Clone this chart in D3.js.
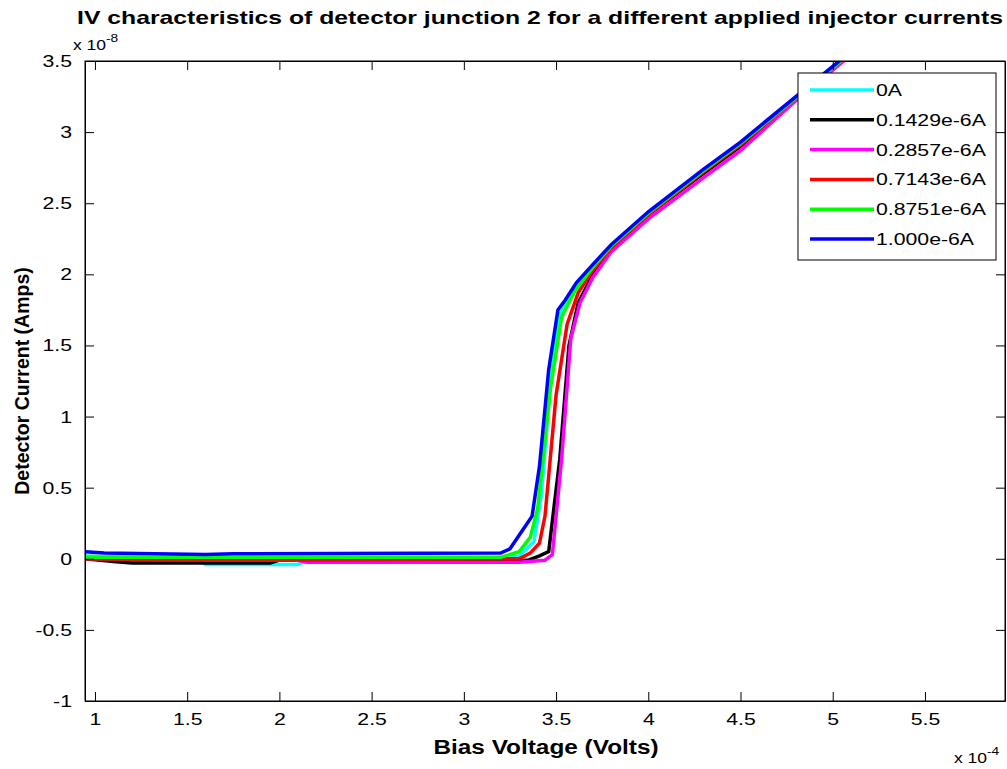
<!DOCTYPE html>
<html>
<head>
<meta charset="utf-8">
<script src="https://cdn.jsdelivr.net/npm/d3@7"></script>
<style>
  html, body { margin: 0; padding: 0; background: #fff; }
  svg { display: block; font-family: "Liberation Sans", Arial, sans-serif; }
</style>
</head>
<body>
<svg id="chart" width="1007" height="769"></svg>
<script>
// Bias voltage in units of 1e-4 V, detector current in units of 1e-8 A
const seriesNames = ["0A", "0.1429e-6A", "0.2857e-6A", "0.7143e-6A", "0.8751e-6A", "1.000e-6A"];
const seriesColors = ["#00ffff", "#000000", "#ff00ff", "#ff0000", "#00ff00", "#0000ff"];

const cyanV = [0.946, 1.55, 1.6, 2.1, 2.15, 3.2, 3.3, 3.38, 3.42, 3.47, 3.52, 3.6, 3.7, 3.8, 4.0, 4.3, 4.5, 4.8, 5.3];
const cyanI = [0.02, 0.0, -0.04, -0.04, -0.015, -0.015, 0.02, 0.12, 0.45, 1.25, 1.72, 1.88, 2.05, 2.2, 2.43, 2.72, 2.91, 3.23, 3.76];

const blackV = [0.946, 1.1, 1.2, 1.95, 2.0, 3.35, 3.41, 3.46, 3.52, 3.57, 3.62, 3.7, 3.8, 4.0, 4.3, 4.5, 4.8, 5.3];
const blackI = [0.0, -0.02, -0.03, -0.03, -0.01, -0.01, 0.02, 0.05, 0.7, 1.5, 1.8, 2.0, 2.18, 2.42, 2.71, 2.9, 3.23, 3.76];

const magentaV = [0.946, 2.1, 2.15, 3.3, 3.44, 3.48, 3.53, 3.58, 3.63, 3.7, 3.8, 4.0, 4.3, 4.5, 4.8, 5.3];
const magentaI = [0.0, -0.01, -0.025, -0.025, -0.01, 0.03, 0.7, 1.55, 1.8, 1.98, 2.16, 2.39, 2.68, 2.87, 3.22, 3.76];

const redV = [0.946, 1.9, 3.3, 3.36, 3.41, 3.44, 3.5, 3.56, 3.62, 3.7, 3.8, 4.0, 4.3, 4.5, 4.8, 5.3];
const redI = [0.0, -0.01, 0.0, 0.04, 0.11, 0.3, 1.15, 1.65, 1.87, 2.03, 2.19, 2.42, 2.72, 2.91, 3.24, 3.78];

const greenV = [0.946, 3.2, 3.3, 3.36, 3.4, 3.47, 3.53, 3.6, 3.7, 3.8, 4.0, 4.3, 4.5, 4.8, 5.3];
const greenI = [0.01, 0.01, 0.05, 0.15, 0.35, 1.2, 1.7, 1.88, 2.05, 2.2, 2.43, 2.73, 2.92, 3.24, 3.77];

const blueV = [0.946, 1.05, 1.6, 1.75, 3.2, 3.25, 3.37, 3.41, 3.46, 3.51, 3.55, 3.61, 3.7, 3.8, 4.0, 4.3, 4.5, 4.8, 5.3];
const blueI = [0.05, 0.04, 0.03, 0.035, 0.04, 0.07, 0.3, 0.65, 1.33, 1.75, 1.82, 1.94, 2.07, 2.21, 2.44, 2.74, 2.93, 3.25, 3.78];

const xTicks = [1, 1.5, 2, 2.5, 3, 3.5, 4, 4.5, 5, 5.5];
const yTicks = [-1, -0.5, 0, 0.5, 1, 1.5, 2, 2.5, 3, 3.5];

const seriesV = [cyanV, blackV, magentaV, redV, greenV, blueV];
const seriesI = [cyanI, blackI, magentaI, redI, greenI, blueI];

const svg = d3.select("#chart");
const plotLeft = 85, plotRight = 1005, plotTop = 61, plotBottom = 701;
// horizontal text in this figure is drawn wider than its height suggests
const sx = 1.25;

const x = d3.scaleLinear().domain([0.946, 5.934]).range([plotLeft, plotRight]);
const y = d3.scaleLinear().domain([-1, 3.5]).range([plotBottom, plotTop]);

svg.append("rect").attr("width", 1007).attr("height", 769).attr("fill", "#fff");

svg.append("defs").append("clipPath").attr("id", "plotClip")
  .append("rect").attr("x", plotLeft).attr("y", plotTop)
  .attr("width", plotRight - plotLeft).attr("height", plotBottom - plotTop);

// Curves
const line = d3.line().x(d => x(d[0])).y(d => y(d[1]));
const plot = svg.append("g").attr("clip-path", "url(#plotClip)");
seriesV.forEach((vs, k) => {
  const pts = vs.map((v, i) => [v, seriesI[k][i]]);
  plot.append("path")
    .datum(pts)
    .attr("d", line)
    .attr("fill", "none")
    .attr("stroke", seriesColors[k])
    .attr("stroke-width", 3.5)
    .attr("stroke-linejoin", "miter");
});

// Axes (ticks point inward on all four sides)
const fmt = d => String(d);

const gx = svg.append("g").attr("transform", `translate(0,${plotBottom})`)
  .call(d3.axisBottom(x).tickValues(xTicks).tickFormat(fmt).tickSizeInner(-9).tickSizeOuter(0).tickPadding(12));
gx.selectAll("text")
  .attr("font-family", "'Liberation Sans', Arial, sans-serif")
  .attr("font-size", 17).attr("fill", "#000")
  .attr("transform", `scale(${sx},1)`);

svg.append("g").attr("transform", `translate(0,${plotTop})`)
  .call(d3.axisTop(x).tickValues(xTicks).tickFormat("").tickSizeInner(-9).tickSizeOuter(0));

const gy = svg.append("g").attr("transform", `translate(${plotLeft},0)`)
  .call(d3.axisLeft(y).tickValues(yTicks).tickFormat(fmt).tickSizeInner(-9).tickSizeOuter(0).tickPadding(0));
gy.selectAll("text")
  .attr("font-family", "'Liberation Sans', Arial, sans-serif")
  .attr("font-size", 17).attr("fill", "#000")
  .attr("x", -13 / sx)
  .attr("transform", `scale(${sx},1)`);

svg.append("g").attr("transform", `translate(${plotRight},0)`)
  .call(d3.axisRight(y).tickValues(yTicks).tickFormat("").tickSizeInner(-9).tickSizeOuter(0));

svg.selectAll(".domain").attr("stroke", "#000");
svg.selectAll(".tick line").attr("stroke", "#000");

// Axis frame
svg.append("rect")
  .attr("x", plotLeft).attr("y", plotTop)
  .attr("width", plotRight - plotLeft).attr("height", plotBottom - plotTop)
  .attr("fill", "none").attr("stroke", "#000").attr("stroke-width", 1);

// Exponent labels
function expLabel(px, py, exp) {
  const t = svg.append("text")
    .attr("transform", `translate(${px},${py}) scale(${sx},1)`)
    .attr("font-size", 14);
  t.append("tspan").text("x 10");
  t.append("tspan").attr("dy", -8).attr("font-size", 11).text(exp);
}
expLabel(73, 50, "-8");
expLabel(954, 763, "-4");

// Title and axis labels
svg.append("text")
  .attr("x", 77).attr("y", 24)
  .attr("font-size", 19).attr("font-weight", "bold")
  .attr("textLength", 926).attr("lengthAdjust", "spacingAndGlyphs")
  .text("IV characteristics of detector junction 2 for a different applied injector currents");

svg.append("text")
  .attr("transform", `translate(546,754) scale(${sx},1)`).attr("text-anchor", "middle")
  .attr("font-size", 19.5).attr("font-weight", "bold")
  .text("Bias Voltage (Volts)");

svg.append("text")
  .attr("transform", "translate(29,381) rotate(-90)").attr("text-anchor", "middle")
  .attr("font-size", 19.5).attr("font-weight", "bold")
  .text("Detector Current (Amps)");

// Legend
const lg = svg.append("g");
lg.append("rect")
  .attr("x", 798).attr("y", 73).attr("width", 198).attr("height", 187)
  .attr("fill", "#fff").attr("stroke", "#000").attr("stroke-width", 1);
seriesNames.forEach((name, k) => {
  const ry = 90 + k * 29.8;
  lg.append("line")
    .attr("x1", 810).attr("x2", 874).attr("y1", ry).attr("y2", ry)
    .attr("stroke", seriesColors[k]).attr("stroke-width", 3.5);
  lg.append("text")
    .attr("transform", `translate(876,${ry + 6}) scale(${sx},1)`)
    .attr("font-size", 17)
    .text(name);
});
</script>
</body>
</html>
